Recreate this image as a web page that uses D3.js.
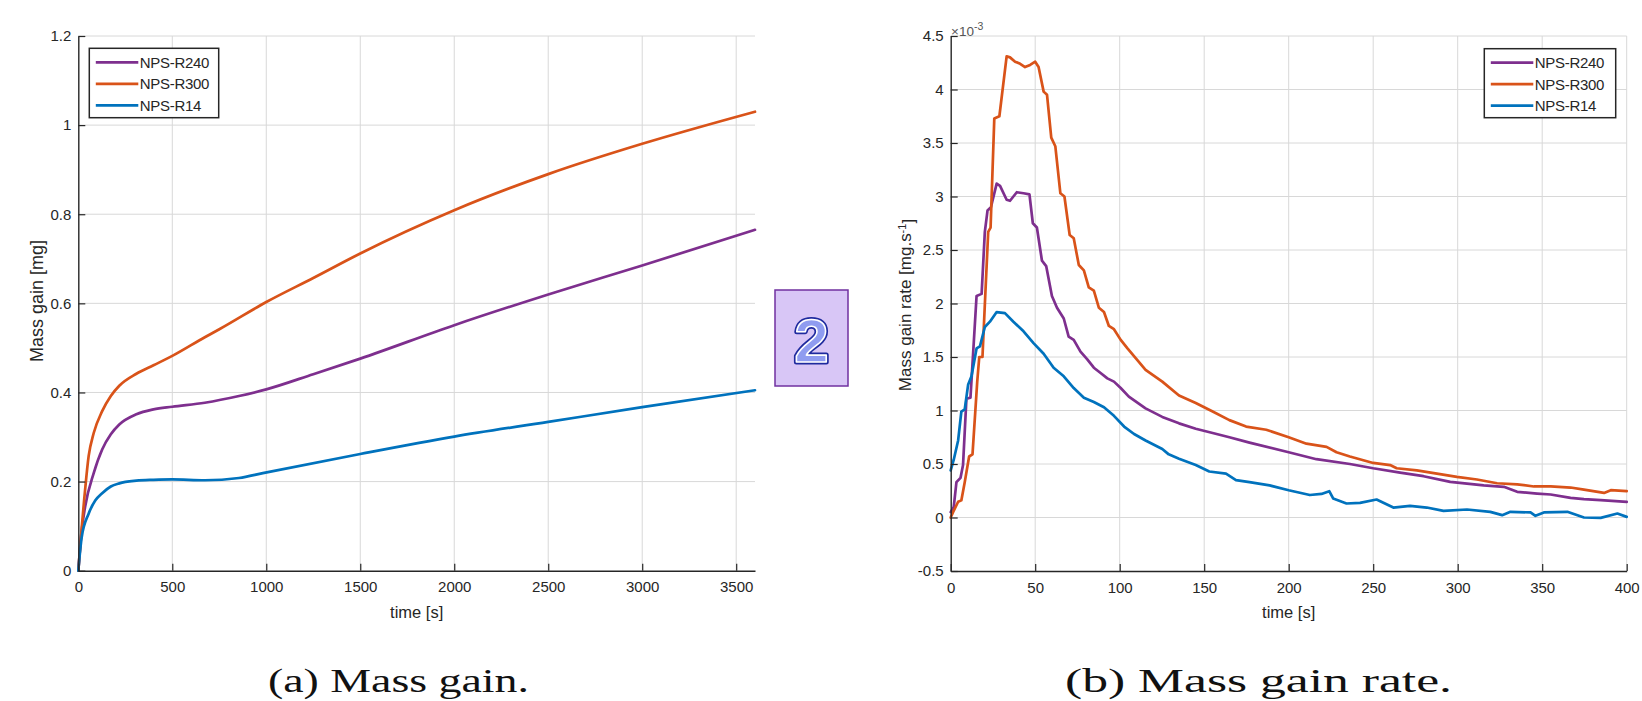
<!DOCTYPE html>
<html>
<head>
<meta charset="utf-8">
<script src="https://cdn.jsdelivr.net/npm/d3@7"></script>
<style>
  html, body { margin: 0; padding: 0; background: #fff; }
  svg { display: block; }
  text { font-family: "Liberation Sans", Arial, sans-serif; }
</style>
</head>
<body>
<svg id="chart" width="1642" height="701"></svg>
<script>
// ---------------- DATA ----------------
const seriesNames = ["NPS-R240", "NPS-R300", "NPS-R14"];
const seriesColors = ["#7E2F8E", "#D95319", "#0072BD"];

// (a) Mass gain [mg] vs time [s]
const gainTimeR240 = [0, 18, 36, 82, 127, 173, 218, 309, 400, 500, 673, 855, 1000, 1250, 1500, 2000, 2500, 3000, 3600];
const gainR240     = [0, 0.09, 0.143, 0.219, 0.272, 0.306, 0.328, 0.351, 0.362, 0.368, 0.377, 0.392, 0.407, 0.441, 0.476, 0.551, 0.620, 0.685, 0.765];
const gainTimeR300 = [0, 36, 55, 82, 127, 173, 218, 309, 400, 500, 673, 755, 1000, 1250, 1500, 2000, 2500, 3000, 3600];
const gainR300     = [0, 0.181, 0.257, 0.309, 0.358, 0.392, 0.415, 0.442, 0.461, 0.482, 0.524, 0.543, 0.603, 0.657, 0.712, 0.809, 0.890, 0.958, 1.030];
const gainTimeR14  = [0, 18, 55, 91, 127, 173, 218, 309, 400, 500, 673, 855, 982, 1500, 2000, 2500, 3000, 3600];
const gainR14      = [0, 0.075, 0.128, 0.158, 0.174, 0.189, 0.196, 0.202, 0.204, 0.205, 0.203, 0.208, 0.219, 0.262, 0.301, 0.334, 0.367, 0.405];

// (b) Mass gain rate [mg.s^-1] (x10^-3) vs time [s]
const rateTimeR240 = [0, 1.8, 3.4, 5.8, 7.3, 9.3, 11.7, 15.3, 18.3, 20.2, 21.8, 23.8, 27.2, 29.2, 33.1, 35.1, 39.1, 43.1, 46.6, 48.6, 51, 54, 56.5, 59.9, 62.9, 66.9, 69.8, 72.8, 76.8, 80.7, 84.7, 88.7, 92.7, 96.6, 100.6, 105.4, 115.3, 125.2, 135.1, 145, 155, 164.9, 176.8, 200, 216.4, 236.2, 250, 265.9, 279.8, 295.6, 315.4, 327.3, 335.2, 347, 355, 366.8, 374.7, 384.6, 400];
const rateR240     = [0.05, 0.10, 0.33, 0.37, 0.49, 1.11, 1.12, 2.07, 2.09, 2.67, 2.87, 2.90, 3.12, 3.10, 2.97, 2.96, 3.04, 3.03, 3.02, 2.75, 2.71, 2.40, 2.35, 2.07, 1.96, 1.86, 1.69, 1.66, 1.55, 1.48, 1.40, 1.35, 1.30, 1.27, 1.21, 1.13, 1.02, 0.94, 0.88, 0.83, 0.79, 0.75, 0.70, 0.61, 0.545, 0.50, 0.46, 0.42, 0.386, 0.333, 0.30, 0.287, 0.24, 0.224, 0.215, 0.184, 0.171, 0.162, 0.146];
const rateTimeR300 = [0, 1.4, 4.4, 6.3, 8.3, 10.9, 12.9, 15.7, 16.9, 18.8, 20.2, 22.2, 23.6, 25.8, 28.8, 33.1, 35.1, 38.1, 41.1, 44.0, 47.0, 50.0, 52.0, 55.0, 57.0, 59.5, 61.9, 64.9, 67.3, 70.4, 72.8, 75.8, 78.8, 81.7, 84.7, 87.7, 90.7, 93.6, 96.6, 100.6, 104.6, 115.3, 125.2, 135.1, 145.0, 155.0, 164.9, 174.8, 186.7, 200, 210.5, 222.4, 228.3, 236.2, 250, 260, 263.9, 275.8, 287.7, 299.5, 311.4, 323.3, 335.2, 345.1, 355, 366.8, 374.7, 386.6, 390.6, 400];
const rateR300     = [0, 0.05, 0.147, 0.16, 0.33, 0.57, 0.59, 1.27, 1.5, 1.5, 1.99, 2.67, 2.71, 3.73, 3.75, 4.31, 4.30, 4.26, 4.24, 4.21, 4.23, 4.26, 4.21, 3.98, 3.95, 3.55, 3.47, 3.03, 3.00, 2.64, 2.61, 2.36, 2.31, 2.15, 2.12, 1.96, 1.92, 1.79, 1.76, 1.66, 1.58, 1.38, 1.27, 1.14, 1.07, 0.99, 0.91, 0.85, 0.82, 0.75, 0.69, 0.66, 0.61, 0.57, 0.51, 0.49, 0.46, 0.44, 0.41, 0.38, 0.355, 0.32, 0.31, 0.29, 0.29, 0.28, 0.26, 0.23, 0.255, 0.246];
const rateTimeR14  = [0, 1.8, 4.4, 6.3, 8.3, 10.3, 12.3, 15.3, 17.3, 20.2, 23.2, 27.2, 32.1, 37.1, 43.1, 49, 55, 60.9, 66.9, 72.8, 78.8, 84.7, 90.7, 96.6, 102.6, 108.5, 115.3, 125.2, 129, 135.1, 145, 153, 162.9, 168.8, 176.8, 188.7, 200, 212.5, 219.4, 224, 226.3, 234.2, 242.2, 252, 261.9, 271.8, 281.7, 291.6, 305.5, 319.3, 326.3, 331.2, 343.1, 346, 351, 364.9, 374.7, 384.6, 394.5, 400];
const rateR14      = [0.44, 0.54, 0.72, 0.99, 1.01, 1.24, 1.32, 1.58, 1.60, 1.78, 1.83, 1.92, 1.91, 1.83, 1.74, 1.63, 1.53, 1.40, 1.32, 1.21, 1.12, 1.08, 1.03, 0.95, 0.85, 0.78, 0.72, 0.64, 0.59, 0.55, 0.49, 0.43, 0.41, 0.35, 0.33, 0.30, 0.255, 0.21, 0.22, 0.246, 0.178, 0.131, 0.137, 0.168, 0.093, 0.109, 0.093, 0.062, 0.075, 0.053, 0.022, 0.053, 0.047, 0.016, 0.047, 0.053, 0.0, -0.003, 0.037, 0.006];

// Ticks
const gainXTicks = [0, 500, 1000, 1500, 2000, 2500, 3000, 3500];
const gainYTicks = [0, 0.2, 0.4, 0.6, 0.8, 1, 1.2];
const gainYTickLabels = ["0", "0.2", "0.4", "0.6", "0.8", "1", "1.2"];
const rateXTicks = [0, 50, 100, 150, 200, 250, 300, 350, 400];
const rateYTicks = [-0.5, 0, 0.5, 1, 1.5, 2, 2.5, 3, 3.5, 4, 4.5];
const rateYTickLabels = ["-0.5", "0", "0.5", "1", "1.5", "2", "2.5", "3", "3.5", "4", "4.5"];

// ---------------- DRAW ----------------
const svg = d3.select("#chart");
const AX = "#262626", GRID = "#d8d8d8";

function panel(cfg) {
  const g = svg.append("g");
  const x = d3.scaleLinear().domain(cfg.xDomain).range(cfg.xRange);
  const y = d3.scaleLinear().domain(cfg.yDomain).range(cfg.yRange);

  // grid
  g.append("g").selectAll("line").data(cfg.xTicks.filter(v => v !== cfg.xDomain[0])).join("line")
    .attr("x1", d => x(d)).attr("x2", d => x(d))
    .attr("y1", cfg.yRange[0]).attr("y2", cfg.yRange[1])
    .attr("stroke", GRID).attr("stroke-width", 1);
  g.append("g").selectAll("line").data(cfg.yTicks.filter(v => v !== cfg.yDomain[0])).join("line")
    .attr("y1", d => y(d)).attr("y2", d => y(d))
    .attr("x1", cfg.xRange[0]).attr("x2", cfg.xRange[1])
    .attr("stroke", GRID).attr("stroke-width", 1);

  // series
  const line = d3.line().x(d => x(d[0])).y(d => y(d[1])).curve(cfg.curve);
  cfg.series.forEach((s, i) => {
    const pts = s.t.map((t, k) => [t, s.v[k]]);
    g.append("path").datum(pts).attr("d", line)
      .attr("fill", "none").attr("stroke", seriesColors[i])
      .attr("stroke-width", 2.7).attr("stroke-linejoin", "round").attr("stroke-linecap", "round");
  });

  // axes
  const xa = g.append("g").attr("transform", `translate(0,${cfg.yRange[0]})`)
    .call(d3.axisBottom(x).tickValues(cfg.xTicks).tickFormat(d => String(d))
      .tickSizeInner(-7).tickSizeOuter(0).tickPadding(11));
  const ya = g.append("g").attr("transform", `translate(${cfg.xRange[0]},0)`)
    .call(d3.axisLeft(y).tickValues(cfg.yTicks).tickFormat((d, i) => cfg.yLabels[i])
      .tickSizeInner(-7).tickSizeOuter(0).tickPadding(7));
  [xa, ya].forEach(a => {
    a.select(".domain").attr("stroke", AX).attr("stroke-width", 1.4);
    a.selectAll(".tick line").attr("stroke", AX).attr("stroke-width", 1.2);
    a.selectAll(".tick text").attr("fill", AX).style("font-size", "15px")
      .style("font-family", '"Liberation Sans", Arial, sans-serif');
  });

  // axis labels
  g.append("text").attr("x", (cfg.xRange[0] + cfg.xRange[1]) / 2).attr("y", 618)
    .attr("text-anchor", "middle").attr("fill", AX).style("font-size", "16.5px").text("time [s]");
  const yl = g.append("text")
    .attr("transform", `translate(${cfg.yLabelX},${cfg.yLabelY}) rotate(-90)`)
    .attr("text-anchor", "middle").attr("fill", AX).style("font-size", cfg.yLabelSize);
  cfg.yLabel(yl);

  // legend
  const L = cfg.legend;
  g.append("rect").attr("x", L.x).attr("y", L.y).attr("width", L.w).attr("height", L.h)
    .attr("fill", "#fff").attr("stroke", AX).attr("stroke-width", 1.5);
  seriesNames.forEach((n, i) => {
    const yy = L.y + 14 + i * 21.5;
    g.append("line").attr("x1", L.x + 6.5).attr("x2", L.x + 49).attr("y1", yy).attr("y2", yy)
      .attr("stroke", seriesColors[i]).attr("stroke-width", 2.8);
    g.append("text").attr("x", L.x + 50.5).attr("y", yy).attr("dy", "0.36em")
      .attr("fill", AX).style("font-size", "15px").style("letter-spacing", "-0.3px").text(n);
  });
  return { x, y, g };
}

panel({
  xDomain: [0, 3600], xRange: [78.3, 755],
  yDomain: [0, 1.2], yRange: [570.7, 36],
  xTicks: gainXTicks, yTicks: gainYTicks, yLabels: gainYTickLabels,
  curve: d3.curveMonotoneX,
  series: [{ t: gainTimeR240, v: gainR240 }, { t: gainTimeR300, v: gainR300 }, { t: gainTimeR14, v: gainR14 }],
  yLabelX: 43, yLabelY: 301, yLabelSize: "18px",
  yLabel: t => t.text("Mass gain [mg]"),
  legend: { x: 89.3, y: 48.3, w: 129.4, h: 69.4 }
});

panel({
  xDomain: [0, 400], xRange: [950.7, 1626.7],
  yDomain: [-0.5, 4.5], yRange: [571, 36],
  xTicks: rateXTicks, yTicks: rateYTicks, yLabels: rateYTickLabels,
  curve: d3.curveLinear,
  series: [{ t: rateTimeR240, v: rateR240 }, { t: rateTimeR300, v: rateR300 }, { t: rateTimeR14, v: rateR14 }],
  yLabelX: 911, yLabelY: 305, yLabelSize: "17px",
  yLabel: t => {
    t.append("tspan").text("Mass gain rate [mg.s");
    t.append("tspan").attr("dy", "-0.45em").style("font-size", "11px").text("-1");
    t.append("tspan").attr("dy", "0.45em").text("]");
  },
  legend: { x: 1484.3, y: 48.7, w: 131.4, h: 69 }
});

// exponent label
const ex = svg.append("text").attr("x", 951).attr("y", 36).attr("fill", "#555").style("font-size", "13.5px");
ex.append("tspan").text("\u00d710");
ex.append("tspan").attr("dy", "-6").style("font-size", "10.5px").text("-3");

// captions
const capStyle = s => s.style("font-family", '"Liberation Serif", "DejaVu Serif", serif')
  .style("font-size", "34px").attr("fill", "#111").attr("lengthAdjust", "spacingAndGlyphs");
svg.append("text").attr("x", 268).attr("y", 692).attr("textLength", 261).call(capStyle).text("(a) Mass gain.");
svg.append("text").attr("x", 1065).attr("y", 692).attr("textLength", 387).call(capStyle).text("(b) Mass gain rate.");

// badge "2"
svg.append("rect").attr("x", 775).attr("y", 290).attr("width", 73).attr("height", 96)
  .attr("fill", "#d8c6f6").attr("stroke", "#7030a0").attr("stroke-width", 1.5);
svg.append("text").attr("x", 811.5).attr("y", 362).attr("text-anchor", "middle")
  .style("font-size", "62px").style("font-weight", "bold")
  .attr("fill", "#1e2a9e").attr("stroke", "#1e2a9e").attr("stroke-width", 5)
  .attr("stroke-linejoin", "round").text("2");
svg.append("text").attr("x", 811.5).attr("y", 362).attr("text-anchor", "middle")
  .style("font-size", "62px").style("font-weight", "bold")
  .attr("fill", "#8f9cf0").attr("stroke", "#ffffff").attr("stroke-width", 1.6)
  .attr("stroke-linejoin", "round").text("2");
</script>
</body>
</html>
